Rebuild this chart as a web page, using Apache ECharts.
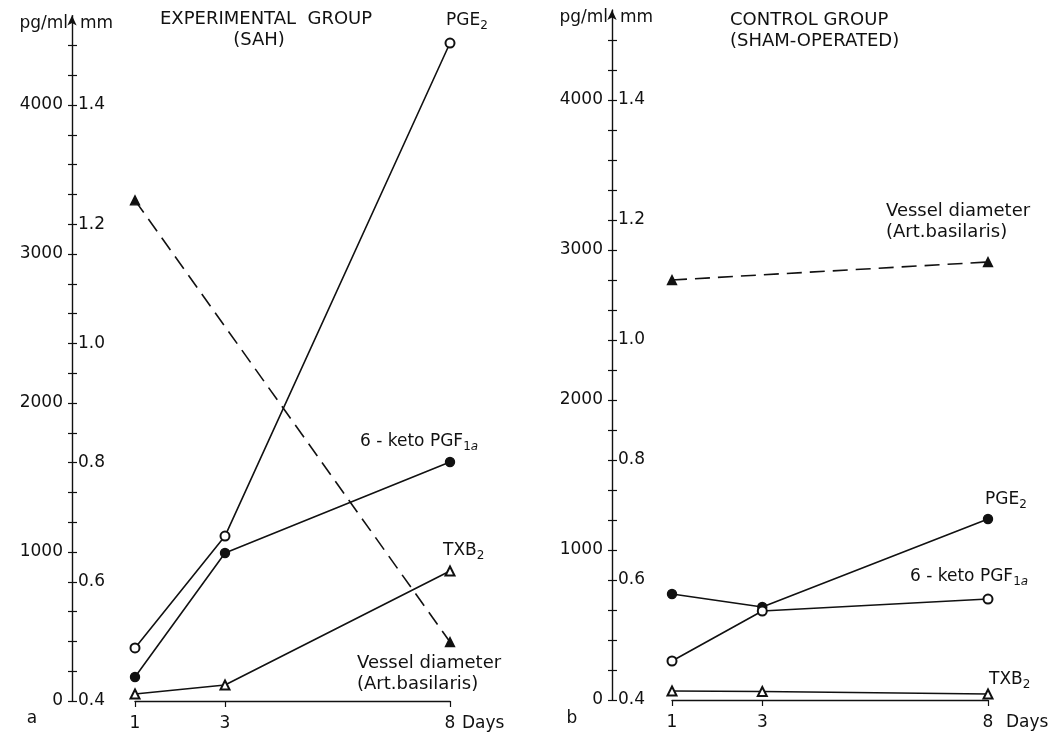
<!DOCTYPE html>
<html>
<head>
<meta charset="utf-8">
<script src="https://cdn.jsdelivr.net/npm/echarts@6/dist/echarts.min.js"></script>
<style>
html,body{margin:0;padding:0;background:#fff;}
#c{width:1054px;height:738px;}
</style>
</head>
<body>
<div id="c"></div>
<script>
// ---- data ----
const days = [1, 3, 8];
const vesselDays = [1, 8];
const pgLabelValues = [0, 1000, 2000, 3000, 4000];
const mmLabelValues = [0.4, 0.6, 0.8, 1.0, 1.2, 1.4];
const pgTickValues = [0,200,400,600,800,1000,1200,1400,1600,1800,2000,2200,2400,2600,2800,3000,3200,3400,3600,3800,4000,4200,4400];
const mmTickValues = [0.4,0.45,0.5,0.55,0.6,0.65,0.7,0.75,0.8,0.85,0.9,0.95,1.0,1.05,1.1,1.15,1.2,1.25,1.3,1.35,1.4,1.45,1.5];

// Panel a: experimental group (SAH)
const aPGE2   = [356, 1107, 4416];   // open circles, pg/ml
const aKeto   = [161, 993, 1604];    // filled circles, pg/ml
const aTXB2   = [47, 107, 872];      // open triangles, pg/ml
const aVessel = [1.24, 0.499];       // filled triangles, mm

// Panel b: control group (sham-operated)
const bPGE2   = [707, 620, 1207];    // filled circles, pg/ml
const bKeto   = [260, 593, 673];     // open circles, pg/ml
const bTXB2   = [60, 57, 40];        // open triangles, pg/ml
const bVessel = [1.10, 1.13];        // filled triangles, mm

const INK = '#111';
const FONT = 'DejaVu Sans';

function pairs(xs, ys){ return xs.map((x,i)=>[x, ys[i]]); }

function pgAxis(grid, offset, gap){
  return {
    type:'value', gridIndex:grid, position:'left', offset:offset,
    min:0, max:4600,
    name:'pg/ml', nameLocation:'end', nameGap:gap,
    nameTextStyle:{color:INK, fontFamily:FONT, fontSize:17, align:'right', verticalAlign:'middle', padding:[0,4,0,0]},
    axisLine:{show:true, symbol:['none','arrow'], symbolSize:[7,10], lineStyle:{color:INK, width:1.4}},
    axisTick:{show:true, length:4, customValues:pgTickValues, lineStyle:{color:INK, width:1.2}},
    axisLabel:{customValues:pgLabelValues, formatter:v=>String(v), color:INK, fontFamily:FONT, fontSize:17, margin:9},
    splitLine:{show:false}
  };
}
function mmAxis(grid, offset, gap){
  return {
    type:'value', gridIndex:grid, position:'left', offset:offset,
    min:0.4, max:1.55,
    name:'mm', nameLocation:'end', nameGap:gap,
    nameTextStyle:{color:INK, fontFamily:FONT, fontSize:17, align:'left', verticalAlign:'middle', padding:[0,0,0,8]},
    axisLine:{show:false},
    axisTick:{show:true, inside:true, length:5, customValues:mmTickValues, lineStyle:{color:INK, width:1.2}},
    axisLabel:{inside:true, customValues:mmLabelValues, formatter:v=>v.toFixed(1), color:INK, fontFamily:FONT, fontSize:17, margin:6},
    splitLine:{show:false}
  };
}
function dayAxis(grid, gap){
  return {
    type:'value', gridIndex:grid, min:1, max:8,
    name:'Days', nameLocation:'end', nameGap:gap,
    nameTextStyle:{color:INK, fontFamily:FONT, fontSize:17, verticalAlign:'top', padding:[14,0,0,0]},
    axisLine:{onZero:false, lineStyle:{color:INK, width:1.4}},
    axisTick:{length:6, customValues:days, lineStyle:{color:INK, width:1.2}},
    axisLabel:{customValues:days, color:INK, fontFamily:FONT, fontSize:17, margin:14},
    splitLine:{show:false}
  };
}
function line(name, xi, yi, data, symbol, dashed){
  return {
    name:name, type:'line', xAxisIndex:xi, yAxisIndex:yi, data:data,
    symbol:symbol, symbolSize:9,
    showAllSymbol:true, animation:false,
    lineStyle:{color:INK, width:1.6, type: dashed ? [15,8] : 'solid'},
    itemStyle:{color:INK, borderColor:INK, borderWidth:1.4},
    emphasis:{disabled:true}
  };
}

const rich = {
  s:{fontSize:12, fontFamily:FONT, color:INK, padding:[10,0,0,0]},
  si:{fontSize:12, fontFamily:FONT, fontStyle:'italic', color:INK, padding:[10,0,0,0]}
};
function txt(text, x, y, opts){
  return {
    type:'text', x:x, y:y, silent:true,
    style:Object.assign({text:text, fill:INK, font:'18px "'+FONT+'"', verticalAlign:'middle', align:'left', rich:rich}, opts||{})
  };
}

const chart = echarts.init(document.getElementById('c'), null, {renderer:'canvas'});
chart.setOption({
  backgroundColor:'#fff',
  animation:false,
  grid:[
    {left:135, width:315, top:15.6, height:685.4},
    {left:672, width:316, top:10, height:690}
  ],
  xAxis:[dayAxis(0, 12), dayAxis(1, 18)],
  yAxis:[pgAxis(0,63,-8), mmAxis(0,63,-8), pgAxis(1,60,-8), mmAxis(1,60,-8)],
  series:[
    line('PGE2 (SAH)', 0, 0, pairs(days, aPGE2), 'emptyCircle'),
    line('6-keto PGF1a (SAH)', 0, 0, pairs(days, aKeto), 'circle'),
    line('TXB2 (SAH)', 0, 0, pairs(days, aTXB2), 'emptyTriangle'),
    line('Vessel diameter (SAH)', 0, 1, pairs(vesselDays, aVessel), 'triangle', true),
    line('PGE2 (control)', 1, 2, pairs(days, bPGE2), 'circle'),
    line('6-keto PGF1a (control)', 1, 2, pairs(days, bKeto), 'emptyCircle'),
    line('TXB2 (control)', 1, 2, pairs(days, bTXB2), 'emptyTriangle'),
    line('Vessel diameter (control)', 1, 3, pairs(vesselDays, bVessel), 'triangle', true)
  ],
  graphic:[
    txt('EXPERIMENTAL  GROUP', 160, 19),
    txt('(SAH)', 259, 40, {align:'center'}),
    txt('PGE{s|2}', 446, 21, {font:'17px "'+FONT+'"'}),
    txt('6 - keto PGF{s|1}{si|a}', 360, 442, {font:'17px "'+FONT+'"'}),
    txt('TXB{s|2}', 443, 551, {font:'17px "'+FONT+'"'}),
    txt('Vessel diameter', 357, 663),
    txt('(Art.basilaris)', 357, 684),
    txt('a', 32, 719, {align:'center', font:'17px "'+FONT+'"'}),
    txt('CONTROL GROUP', 730, 20),
    txt('(SHAM-OPERATED)', 730, 41),
    txt('Vessel diameter', 886, 211),
    txt('(Art.basilaris)', 886, 232),
    txt('PGE{s|2}', 985, 500, {font:'17px "'+FONT+'"'}),
    txt('6 - keto PGF{s|1}{si|a}', 910, 577, {font:'17px "'+FONT+'"'}),
    txt('TXB{s|2}', 989, 680, {font:'17px "'+FONT+'"'}),
    txt('b', 572, 719, {align:'center', font:'17px "'+FONT+'"'})
  ]
});
</script>
</body>
</html>
